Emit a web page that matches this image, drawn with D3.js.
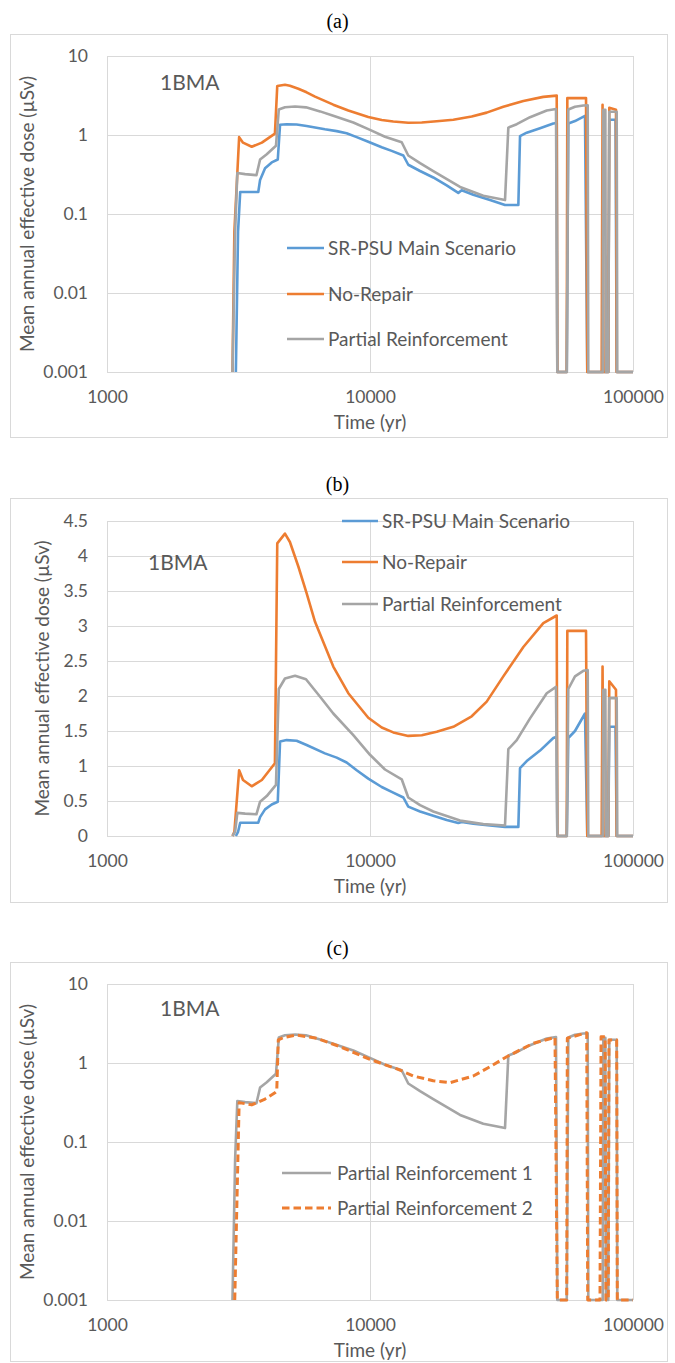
<!DOCTYPE html>
<html>
<head>
<meta charset="utf-8">
<script src="https://cdn.jsdelivr.net/npm/d3@7"></script>
<style>
  body { margin: 0; background: #fff; }
  text { font-family: Lato, "Open Sans", sans-serif; fill: #595959; }
</style>
</head>
<body>
<svg width="675" height="1363"></svg>
<script>
// tick values
const yearTicks = [1000, 10000, 100000]
const logDoseTicks = [0.001, 0.01, 0.1, 1, 10]
const linDoseTicks = [0, 0.5, 1, 1.5, 2, 2.5, 3, 3.5, 4, 4.5]

// [time (yr), mean annual effective dose (µSv)]
const mainScenario = [
  [3090, 0], [3150, 0.06], [3210, 0.19], [3760, 0.19], [3820, 0.27], [3990, 0.38],
  [4230, 0.45], [4460, 0.49], [4550, 1.35], [4820, 1.37], [5260, 1.36], [5740, 1.30],
  [6740, 1.18], [7470, 1.12], [8150, 1.05], [8900, 0.94], [9850, 0.82], [11080, 0.70],
  [12090, 0.63], [13390, 0.55], [13980, 0.42], [15500, 0.35], [17400, 0.29], [19570, 0.23],
  [21660, 0.185], [22320, 0.20], [24700, 0.175], [28600, 0.15], [32610, 0.13], [36650, 0.13],
  [37190, 0.97], [39440, 1.07], [44310, 1.22], [49770, 1.40], [51300, 1.42], [51550, 0],
  [56000, 0], [56760, 1.40], [60180, 1.50], [65690, 1.75], [67020, 0], [80540, 0],
  [81250, 1.56], [85800, 1.56], [86700, 0], [100000, 0]
]

const noRepair = [
  [3000, 0], [3050, 0.06], [3180, 0.94], [3290, 0.80], [3550, 0.71], [3880, 0.80],
  [4350, 1.04], [4440, 4.18], [4750, 4.32], [4960, 4.20], [5340, 3.85], [5740, 3.47],
  [6180, 3.06], [7250, 2.42], [8270, 2.04], [9850, 1.69], [11080, 1.55], [12260, 1.48],
  [13980, 1.43], [15730, 1.44], [17930, 1.49], [20740, 1.56], [24360, 1.71], [27780, 1.92],
  [32130, 2.28], [38290, 2.70], [45600, 3.04], [51280, 3.15], [51550, 0], [55970, 0],
  [56270, 2.93], [66280, 2.93], [67020, 0], [76000, 0], [76600, 2.42], [77300, 0],
  [80540, 0], [81250, 2.21], [86170, 2.09], [86700, 0], [100000, 0]
]

const partialReinf = [
  [3000, 0], [3070, 0.06], [3130, 0.33], [3350, 0.32], [3700, 0.31], [3820, 0.49],
  [4050, 0.57], [4390, 0.73], [4500, 2.10], [4750, 2.25], [5190, 2.29], [5710, 2.24],
  [6460, 1.99], [7250, 1.75], [8640, 1.44], [10000, 1.16], [11400, 0.95], [13200, 0.81],
  [13980, 0.55], [15500, 0.44], [17400, 0.35], [22000, 0.22], [26960, 0.17], [32610, 0.15],
  [33570, 1.24], [36140, 1.37], [40600, 1.68], [46990, 2.04], [50960, 2.13], [51550, 0],
  [56000, 0], [56760, 2.10], [60180, 2.28], [64710, 2.36], [67270, 2.37], [67610, 0],
  [76700, 0], [77100, 2.09], [78500, 2.09], [78900, 0], [80540, 0], [81250, 1.97],
  [86700, 1.97], [87150, 0], [100000, 0]
]

const partialReinf2 = [
  [3060, 0], [3180, 0.315], [3550, 0.295], [3990, 0.35], [4350, 0.42], [4420, 0.44],
  [4480, 1.96], [4680, 2.10], [5260, 2.26], [6270, 2.06], [7690, 1.61], [10000, 1.11],
  [13000, 0.815], [14600, 0.684], [17400, 0.597], [20150, 0.564], [24700, 0.684],
  [28600, 0.898], [33100, 1.20], [41790, 1.78], [50510, 2.11], [51550, 0], [55970, 0],
  [56270, 2.06], [66680, 2.42], [67270, 0], [74900, 0], [75600, 2.15], [78300, 2.15],
  [78940, 0], [80540, 0], [81000, 1.96], [86700, 1.96], [87150, 0], [100000, 0]
]

const blue = '#5B9BD5', orange = '#ED7D31', gray = '#A5A5A5', grid = '#D9D9D9'

const svg = d3.select('svg')

const panels = [
  {
    label: '(a)', labelY: 28, boxTop: 34, boxBottom: 437, top: 56, bottom: 372, log: true,
    titleX: 34, tagX: 160, tagY: 90,
    series: [
      { name: 'SR-PSU Main Scenario', data: mainScenario, color: blue },
      { name: 'No-Repair', data: noRepair, color: orange },
      { name: 'Partial Reinforcement', data: partialReinf, color: gray }
    ],
    legend: { x1: 287, x2: 324, tx: 328, ys: [248, 294, 339] }
  },
  {
    label: '(b)', labelY: 491, boxTop: 498, boxBottom: 902, top: 521, bottom: 836, log: false,
    titleX: 49, tagX: 148, tagY: 570,
    series: [
      { name: 'SR-PSU Main Scenario', data: mainScenario, color: blue },
      { name: 'No-Repair', data: noRepair, color: orange },
      { name: 'Partial Reinforcement', data: partialReinf, color: gray }
    ],
    legend: { x1: 342, x2: 378, tx: 382, ys: [521, 562, 604] }
  },
  {
    label: '(c)', labelY: 955, boxTop: 962, boxBottom: 1361, top: 984, bottom: 1300, log: true,
    titleX: 34, tagX: 160, tagY: 1016,
    series: [
      { name: 'Partial Reinforcement 1', data: partialReinf, color: gray },
      { name: 'Partial Reinforcement 2', data: partialReinf2, color: orange, dash: '7.5,4' }
    ],
    legend: { x1: 282, x2: 331, tx: 337, ys: [1173, 1208] }
  }
]

const x = d3.scaleLog().domain([1000, 100000]).range([107, 633])

panels.forEach(p => {
  const g = svg.append('g')

  const y = p.log
    ? d3.scaleLog().domain([0.001, 10]).range([p.bottom, p.top]).clamp(true)
    : d3.scaleLinear().domain([0, 4.5]).range([p.bottom, p.top])
  const yTicks = p.log ? logDoseTicks : linDoseTicks

  g.append('text')
    .attr('x', 337.5)
    .attr('y', p.labelY)
    .attr('text-anchor', 'middle')
    .style('font-family', '"Liberation Serif", serif')
    .style('font-size', '20px')
    .style('fill', '#000')
    .text(p.label)

  g.append('rect')
    .attr('x', 10.5)
    .attr('y', p.boxTop + 0.5)
    .attr('width', 657)
    .attr('height', p.boxBottom - p.boxTop)
    .attr('fill', 'none')
    .attr('stroke', grid)

  // gridlines
  g.append('g').selectAll('line')
    .data(yTicks)
    .enter().append('line')
    .attr('x1', x.range()[0]).attr('x2', x.range()[1])
    .attr('y1', d => Math.round(y(d)) + 0.5).attr('y2', d => Math.round(y(d)) + 0.5)
    .attr('stroke', grid)

  g.append('g').selectAll('line')
    .data(yearTicks)
    .enter().append('line')
    .attr('x1', d => Math.round(x(d)) + 0.5).attr('x2', d => Math.round(x(d)) + 0.5)
    .attr('y1', p.top).attr('y2', p.bottom)
    .attr('stroke', grid)

  // axes labels
  const yAxis = g.append('g')
    .attr('transform', `translate(${x.range()[0]},0)`)
    .call(d3.axisLeft(y).tickValues(yTicks).tickFormat(d => String(d)).tickSize(0).tickPadding(19))
  const xAxis = g.append('g')
    .attr('transform', `translate(0,${p.bottom})`)
    .call(d3.axisBottom(x).tickValues(yearTicks).tickFormat(d => String(d)).tickSize(0).tickPadding(19))
  ;[yAxis, xAxis].forEach(a => {
    a.select('.domain').remove()
    a.attr('font-family', null).attr('font-size', null)
    a.selectAll('text').style('font-size', '17.5px').style('fill', '#595959')
  })

  g.append('text')
    .attr('x', 370)
    .attr('y', p.bottom + 57)
    .attr('text-anchor', 'middle')
    .style('font-size', '19px')
    .text('Time (yr)')

  g.append('text')
    .attr('transform', `translate(${p.titleX},${(p.top + p.bottom) / 2}) rotate(-90)`)
    .attr('text-anchor', 'middle')
    .style('font-size', '19px')
    .text('Mean annual effective dose (µSv)')

  g.append('text')
    .attr('x', p.tagX)
    .attr('y', p.tagY)
    .style('font-size', '21px')
    .text('1BMA')

  const line = d3.line()
    .x(d => x(d[0]))
    .y(d => y(d[1]))

  p.series.forEach(s => {
    g.append('path')
      .datum(s.data)
      .attr('d', line)
      .attr('fill', 'none')
      .attr('stroke', s.color)
      .attr('stroke-width', s.dash ? 3 : 2.6)
      .attr('stroke-linejoin', 'round')
      .attr('stroke-dasharray', s.dash || null)
  })

  // legend
  const leg = g.append('g').selectAll('g')
    .data(p.series)
    .enter().append('g')
  leg.append('line')
    .attr('x1', p.legend.x1).attr('x2', p.legend.x2)
    .attr('y1', (d, i) => p.legend.ys[i]).attr('y2', (d, i) => p.legend.ys[i])
    .attr('stroke', d => d.color)
    .attr('stroke-width', d => d.dash ? 3 : 2.6)
    .attr('stroke-dasharray', d => d.dash || null)
  leg.append('text')
    .attr('x', p.legend.tx)
    .attr('y', (d, i) => p.legend.ys[i])
    .attr('dy', '0.36em')
    .style('font-size', '19px')
    .text(d => d.name)
})
</script>
</body>
</html>
